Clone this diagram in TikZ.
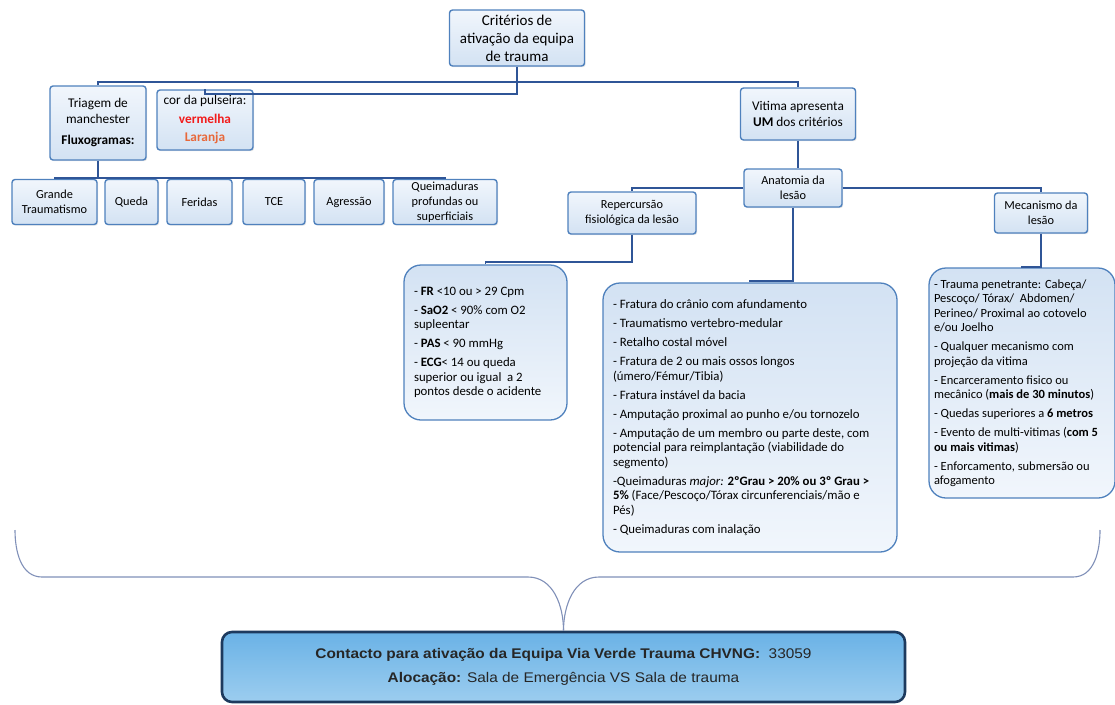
\documentclass[tikz,border=0pt]{standalone}
\usepackage{fontspec}
\setmainfont{Carlito}
\newfontfamily\arialfont[FakeStretch=1.1]{Liberation Sans}
\usetikzlibrary{shadows}
\definecolor{boxline}{HTML}{4F81BD}
\definecolor{boxtop}{HTML}{F1F6FC}
\definecolor{boxbot}{HTML}{D3E2F3}
\definecolor{linkblue}{HTML}{2F5597}
\definecolor{bracegray}{HTML}{8090B8}
\definecolor{navy}{HTML}{1D3A5E}
\definecolor{skytop}{HTML}{6AB2E6}
\definecolor{skybot}{HTML}{9CCDEF}
\definecolor{pulsred}{HTML}{F21C1C}
\definecolor{pulsorange}{HTML}{E8683A}

\begin{document}
\begin{tikzpicture}[x=1pt,y=-1pt]
\tikzset{font=\fontsize{12.3}{15}\selectfont}
\tikzset{box/.style={draw=boxline, line width=1.4pt, rounded corners=3pt, top color=boxtop, bottom color=boxbot, align=center, inner sep=2pt, drop shadow={opacity=0.2, shadow xshift=1.2pt, shadow yshift=-1.2pt}}}
\tikzset{bigbox/.style={box, font=\fontsize{13.3}{15.5}\selectfont}}
\tikzset{listbox/.style={draw=boxline, line width=1.3pt, rounded corners=17pt, top color=boxbot, bottom color=boxtop, align=flush left, inner ysep=2pt, font=\fontsize{12.8}{14.5}\selectfont}}
\tikzset{link/.style={draw=linkblue, line width=1.8pt}}
\tikzset{brace/.style={draw=bracegray, line width=1.1pt}}
\useasboundingbox (0,0) rectangle (1115,704);

\node[box, minimum width=135, minimum height=56, font=\fontsize{15}{18}\selectfont] (top) at (517,38) {Critérios de\\ativação da equipa\\de trauma};

\node[bigbox, minimum width=96, minimum height=74] (triagem) at (98,123) {Triagem de\\manchester\\[6pt]\textbf{Fluxogramas:}};
\node[bigbox, minimum width=96, minimum height=60] (pulseira) at (205,120) {cor da pulseira:\\[3pt]\textcolor{pulsred}{\textbf{vermelha}}\\[3pt]\textcolor{pulsorange}{\textbf{Laranja}}};
\node[bigbox, minimum width=115, minimum height=52] (vitima) at (798,114) {Vitima apresenta\\\textbf{UM} dos critérios};

\node[box, minimum width=85, minimum height=45] (grande) at (54.5,202) {Grande\\Traumatismo};
\node[box, minimum width=53, minimum height=45] (queda) at (131.5,202) {Queda};
\node[box, minimum width=65, minimum height=45] (feridas) at (199.5,202) {Feridas};
\node[box, minimum width=62, minimum height=45] (tce) at (274,202) {TCE};
\node[box, minimum width=70, minimum height=45] (agressao) at (349,202) {Agressão};
\node[box, minimum width=104, minimum height=45] (queim) at (445,202) {Queimaduras\\profundas ou\\superficiais};

\node[box, minimum width=98, minimum height=38] (anatomia) at (793,188) {Anatomia da\\lesão};
\node[box, minimum width=128, minimum height=42] (reperc) at (632,213) {Repercursão\\fisiológica da lesão};
\node[box, minimum width=93, minimum height=40] (mecan) at (1041,213) {Mecanismo da\\lesão};

\node[listbox, inner xsep=10pt, text width=143, minimum height=155] (fisio) at (485.5,342.5) {%
- \textbf{FR} <10 ou > 29 Cpm\\[4.5pt]
- \textbf{SaO2} < 90\% com O2\\supleentar\\[4.5pt]
- \textbf{PAS} < 90 mmHg\\[4.5pt]
- \textbf{ECG}< 14 ou queda\\superior ou igual\ \ a 2\\pontos desde o acidente};

\node[listbox, inner xsep=10pt, text width=274, minimum height=269] (lesoes) at (750,417.5) {%
- Fratura do crânio com afundamento\\[4.5pt]
- Traumatismo vertebro-medular\\[4.5pt]
- Retalho costal móvel\\[4.5pt]
- Fratura de 2 ou mais ossos longos\\(úmero/Fémur/Tibia)\\[4.5pt]
- Fratura instável da bacia\\[4.5pt]
- Amputação proximal ao punho e/ou tornozelo\\[4.5pt]
- Amputação de um membro ou parte deste, com\\potencial para reimplantação (viabilidade do\\segmento)\\[4.5pt]
-Queimaduras \textit{major:} \textbf{2ºGrau > 20\% ou 3º Grau >}\\\textbf{5\%} (Face/Pescoço/Tórax circunferenciais/mão e\\Pés)\\[4.5pt]
- Queimaduras com inalação};

\node[listbox, inner xsep=5pt, text width=176, minimum height=230, font=\fontsize{12.5}{14.5}\selectfont] (mecanismos) at (1022,383) {%
- Trauma penetrante: Cabeça/\\Pescoço/ Tórax/\ \ Abdomen/\\Perineo/ Proximal ao cotovelo\\e/ou Joelho\\[4.5pt]
- Qualquer mecanismo com\\projeção da vitima\\[4.5pt]
- Encarceramento fisico ou\\mecânico (\textbf{mais de 30 minutos})\\[4.5pt]
- Quedas superiores a \textbf{6 metros}\\[4.5pt]
- Evento de multi-vitimas (\textbf{com 5}\\\textbf{ou mais vitimas})\\[4.5pt]
- Enforcamento, submersão ou\\afogamento};

\node[draw=navy, line width=2.6pt, rounded corners=10pt, top color=skytop, bottom color=skybot, minimum width=683, minimum height=70, align=center, font=\arialfont\fontsize{14}{24}\selectfont, text=black!85] (contacto) at (563.5,667) {\textbf{Contacto para ativação da Equipa Via Verde Trauma CHVNG:}\ \ 33059\\\textbf{Alocação:} Sala de Emergência VS Sala de trauma};

\draw[link] (top.south) -- ++(0,27) -| (pulseira.north);
\draw[link] (triagem.north) -- ++(0,-3) -| (vitima.north);
\draw[link] (triagem.south) -- ++(0,17) coordinate (bus);
\foreach \c in {grande,queda,feridas,tce,agressao,queim}
  \draw[link] (bus) -| (\c.north);
\draw[link] (vitima.south) -- (vitima.south |- anatomia.north);
\draw[link] (anatomia.west) -| (reperc.north);
\draw[link] (anatomia.east) -| (mecan.north);
\draw[link] (reperc.south) -- ++(0,27) -| (fisio.north);
\draw[link] (anatomia.south) -- ++(0,73) -| (lesoes.north);
\draw[link] (mecan.south) -- ++(0,33) -| (mecanismos.north);

\coordinate (bl) at (15,530);
\coordinate (br) at (1100,530);
\draw[brace] (bl) to[out=-90,in=180] (42,577) -- (528,577) to[out=0,in=90] (contacto.north);
\draw[brace] (br) to[out=-90,in=0] (1073,577) -- (599,577) to[out=180,in=90] (contacto.north);
\end{tikzpicture}
\end{document}
